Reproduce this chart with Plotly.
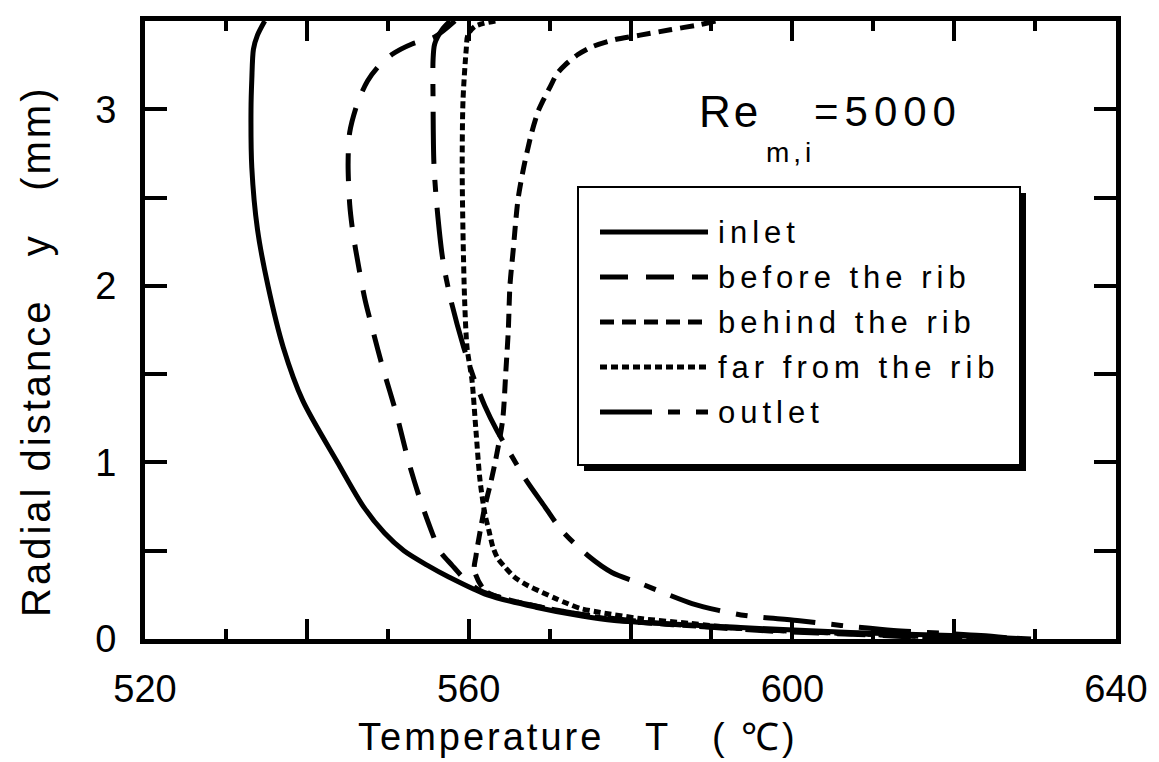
import plotly.graph_objects as go

# ---------------- data ----------------
inlet_T = [534.8, 533.9, 533.4, 533.2, 533.1, 533.2, 533.9, 535.2, 537.1, 539.5, 543.8,
           547.0, 549.6, 552.0, 554.8, 557.6, 562.3, 568.3, 574.0, 578.0, 593.6, 607.2,
           619.6, 629.5]
inlet_y = [3.50, 3.42, 3.34, 3.17, 3.00, 2.67, 2.32, 2.00, 1.65, 1.35, 1.00,
           0.75, 0.60, 0.50, 0.42, 0.35, 0.25, 0.18, 0.13, 0.105, 0.065, 0.037,
           0.02, 0.0]

before_T = [558.3, 555.8, 553.0, 550.5, 548.8, 547.5, 546.3, 545.3, 545.1, 545.3, 545.7,
            546.4, 547.2, 548.2, 549.3, 551.1, 552.6, 554.0, 555.5, 556.4, 557.9, 559.5,
            561.4, 565.1, 572.5, 582.4, 596.1, 610.9, 619.6]
before_y = [3.50, 3.41, 3.37, 3.31, 3.24, 3.16, 3.04, 2.87, 2.69, 2.46, 2.30,
            2.11, 1.92, 1.74, 1.55, 1.27, 1.00, 0.79, 0.60, 0.50, 0.42, 0.34,
            0.275, 0.22, 0.15, 0.094, 0.048, 0.02, 0.0]

behind_T = [590.5, 588.6, 584.9, 581.2, 578.1, 575.3, 573.5, 571.9, 570.9, 570.1, 569.2,
            568.6, 567.8, 566.8, 566.1, 565.5, 565.1, 564.9, 564.6, 564.2, 563.4, 562.8,
            562.0, 561.3, 560.9, 560.7, 562.0, 565.1, 571.3, 578.7, 591.1, 603.5, 613.4, 622.0]
behind_y = [3.50, 3.48, 3.45, 3.42, 3.395, 3.355, 3.31, 3.25, 3.20, 3.13, 3.05,
            2.99, 2.87, 2.67, 2.49, 2.20, 2.00, 1.75, 1.52, 1.24, 1.03, 0.90,
            0.75, 0.58, 0.47, 0.39, 0.275, 0.22, 0.16, 0.105, 0.065, 0.037, 0.02, 0.0]

far_T = [563.3, 560.8, 559.9, 559.7, 559.3, 559.2, 559.3, 559.5, 559.8, 560.4, 560.9,
         561.4, 562.0, 562.5, 563.0, 563.6, 564.5, 565.7, 567.3, 569.1, 570.7, 572.2,
         573.8, 576.3, 581.2, 587.4, 593.6, 603.5, 613.4, 623.3]
far_y = [3.50, 3.47, 3.42, 3.34, 3.05, 2.67, 2.30, 1.92, 1.65, 1.47, 1.18,
         0.90, 0.71, 0.615, 0.52, 0.457, 0.406, 0.349, 0.303, 0.264, 0.23, 0.201,
         0.173, 0.15, 0.116, 0.088, 0.06, 0.037, 0.02, 0.0]

outlet_T = [557.7, 556.7, 555.8, 555.6, 555.6, 555.7, 556.0, 556.8, 557.8, 559.4, 560.7,
            562.0, 563.5, 565.4, 567.1, 569.4, 571.5, 574.8, 577.7, 581.2, 584.3, 587.6,
            590.9, 594.2, 600.6, 606.0, 612.5, 616.7, 623.3, 628.2]
outlet_y = [3.50, 3.45, 3.37, 3.28, 3.05, 2.70, 2.49, 2.15, 1.92, 1.65, 1.47,
            1.32, 1.18, 1.03, 0.90, 0.75, 0.615, 0.47, 0.377, 0.315, 0.258, 0.201,
            0.162, 0.133, 0.105, 0.077, 0.048, 0.037, 0.02, 0.0]

series_names = ["inlet", "before the rib", "behind the rib", "far from the rib", "outlet"]
x_tickvals = [520, 540, 560, 580, 600, 620, 640]
x_ticktext = ["520", "", "560", "", "600", "", "640"]
y_tickvals = [0, 0.5, 1, 1.5, 2, 2.5, 3]
y_ticktext = ["0", "", "1", "", "2", "", "3"]

# ---------------- styling ----------------
W, H = 1159, 762
ML, MR, MT, MB = 145, 43, 21, 123
FONT = "Liberation Sans, Arial, Helvetica, sans-serif"
dashes = ["solid", "28px,18px", "14px,8px", "7px,4px", "52px,16px,12px,16px"]
LW = 5

def px2paper(px, py):
    return (px - ML) / (W - ML - MR), (H - MB - py) / (H - MT - MB)

fig = go.Figure()
curves = [(inlet_T, inlet_y), (before_T, before_y), (behind_T, behind_y),
          (far_T, far_y), (outlet_T, outlet_y)]
for (tx, ty), name, d in zip(curves, series_names, dashes):
    fig.add_trace(go.Scatter(x=tx, y=ty, mode="lines", name=name, showlegend=False,
                             line=dict(color="black", width=LW, dash=d,
                                       shape="spline", smoothing=0.8)))

shapes = []
annotations = []

# legend box with drop shadow
bx0, by0 = px2paper(578, 465)
bx1, by1 = px2paper(1020, 187)
sx, sy = px2paper(584, 471)
sx1, sy1 = px2paper(1026, 193)
shapes.append(dict(type="rect", xref="paper", yref="paper", x0=sx, y0=sy, x1=sx1, y1=sy1,
                   fillcolor="black", line=dict(width=0), layer="above"))
shapes.append(dict(type="rect", xref="paper", yref="paper", x0=bx0, y0=by0, x1=bx1, y1=by1,
                   fillcolor="white", line=dict(color="black", width=2), layer="above"))
for i, (name, d) in enumerate(zip(series_names, dashes)):
    row_py = 232 + 45 * i
    lx0, ly = px2paper(600, row_py)
    lx1, _ = px2paper(708, row_py)
    shapes.append(dict(type="line", xref="paper", yref="paper", x0=lx0, x1=lx1, y0=ly, y1=ly,
                       line=dict(color="black", width=LW, dash=d), layer="above"))
    tx, _ = px2paper(716, row_py)
    annotations.append(dict(xref="paper", yref="paper", x=tx, y=ly, xanchor="left",
                            yanchor="middle", showarrow=False,
                            text='<span style="letter-spacing:5px">%s</span>' % name,
                            font=dict(family=FONT, size=31, color="black")))

# Re_{m,i}=5000
rx, ry = px2paper(697, 112)
annotations.append(dict(xref="paper", yref="paper", x=rx, y=ry, xanchor="left", yanchor="middle",
                        showarrow=False, text='<span style="letter-spacing:3px">Re</span>',
                        font=dict(family=FONT, size=44, color="black")))
mx, my = px2paper(764, 152)
annotations.append(dict(xref="paper", yref="paper", x=mx, y=my, xanchor="left", yanchor="middle",
                        showarrow=False, text='<span style="letter-spacing:4px">m,i</span>',
                        font=dict(family=FONT, size=28, color="black")))
ex, ey = px2paper(812, 112)
annotations.append(dict(xref="paper", yref="paper", x=ex, y=ey, xanchor="left", yanchor="middle",
                        showarrow=False, text='<span style="letter-spacing:6px">=5000</span>',
                        font=dict(family=FONT, size=42, color="black")))

# axis titles
tx, ty = px2paper(578, 737)
annotations.append(dict(xref="paper", yref="paper", x=tx, y=ty, xanchor="center", yanchor="middle",
                        showarrow=False,
                        text='<span style="letter-spacing:3px">Temperature\u00a0\u00a0\u00a0T\u00a0\u00a0\u00a0(\u00a0\u2103)</span>',
                        font=dict(family=FONT, size=38, color="black")))
yx, yy = px2paper(36, 352)
annotations.append(dict(xref="paper", yref="paper", x=yx, y=yy, xanchor="center", yanchor="middle",
                        showarrow=False, textangle=-90,
                        text='<span style="letter-spacing:3px">Radial distance\u00a0\u00a0\u00a0y\u00a0\u00a0\u00a0(mm)</span>',
                        font=dict(family=FONT, size=40, color="black")))

axis_common = dict(showgrid=False, zeroline=False, showline=True, linecolor="black", linewidth=5,
                   mirror="allticks", ticks="inside", tickcolor="black", tickwidth=4,
                   tickfont=dict(family=FONT, size=38, color="black"))

fig.update_layout(
    width=W, height=H,
    margin=dict(l=ML, r=MR, t=MT, b=MB, pad=0),
    paper_bgcolor="white", plot_bgcolor="white",
    showlegend=False,
    xaxis=dict(range=[520, 640], tickmode="array", tickvals=x_tickvals, ticktext=x_ticktext,
               ticklen=20, ticklabelstandoff=12,
               minor=dict(tickmode="linear", tick0=520, dtick=10, ticklen=10, tickwidth=4,
                          ticks="inside", tickcolor="black"),
               **axis_common),
    yaxis=dict(range=[0, 3.5], tickmode="array", tickvals=y_tickvals, ticktext=y_ticktext,
               ticklen=22, ticklabelstandoff=16, **axis_common),
    shapes=shapes,
    annotations=annotations,
)

fig.write_html("out.html")
